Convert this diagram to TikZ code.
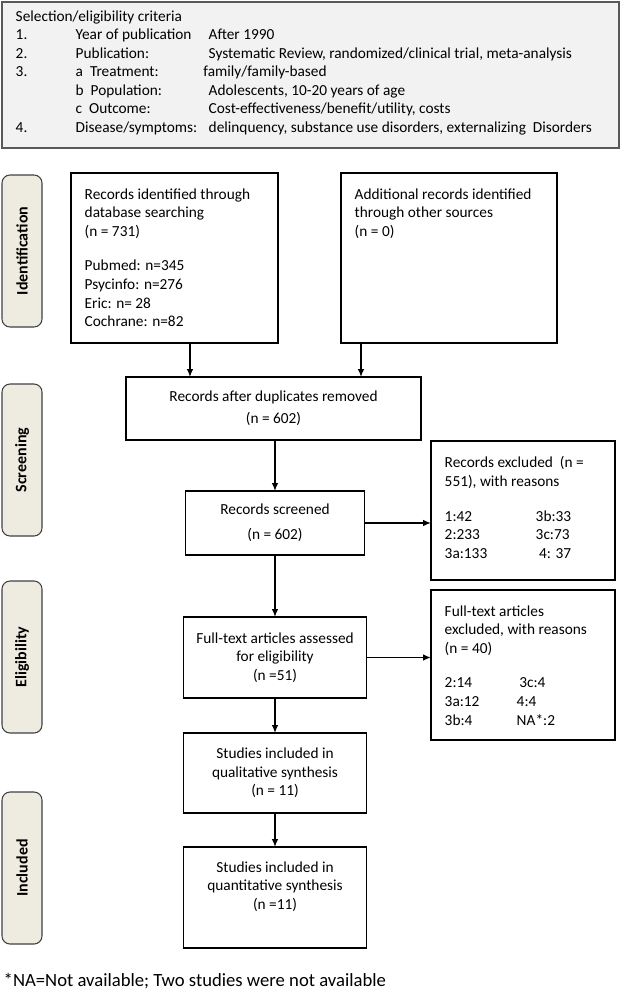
\documentclass[tikz,border=0pt]{standalone}
\usepackage{fontspec}
\setmainfont{Carlito}
\usetikzlibrary{positioning}
\usetikzlibrary{arrows.meta}
\definecolor{stagefill}{HTML}{EEECE1}
\definecolor{critfill}{HTML}{F2F2F2}

\begin{document}
\begin{tikzpicture}[x=0.75pt,y=-0.75pt,>={Latex[length=6pt,width=5pt]},line width=1.1pt,font=\fontsize{11.5}{13.9}\selectfont,
	box/.style={draw=black,line width=1.1pt,outer sep=0pt,inner sep=0pt},
	stage/.style={draw=black!75,line width=0.8pt,fill=stagefill,rounded corners=6pt,minimum width=114pt,minimum height=30pt,rotate=90,font=\fontsize{12}{13.9}\selectfont\bfseries},
	txt/.style={anchor=north west,inner sep=0pt,align=left}]
	\useasboundingbox (0,0) rectangle (622,992);

	\node [box,draw=black!65,fill=critfill,minimum width=462.75pt,minimum height=109.5pt] at (310.5,75) (crit) {};
	\node [anchor=north west,inner sep=0pt] at ([shift={(13,5.5)}]crit.north west) (crit_txt) {\setlength{\tabcolsep}{0pt}%
		\begin{tabular}{p{45pt}p{99.75pt}l}
		\multicolumn{3}{l}{Selection/eligibility criteria}\\
		1. & Year of publication & After 1990\\
		2. & Publication: & Systematic Review, randomized/clinical trial, meta-analysis\\
		3. & a\ \ Treatment: & \hspace{-4pt}family/family-based\\
		 & b\ \ Population: & Adolescents, 10-20 years of age\\
		 & c\ \ Outcome: & Cost-effectiveness/benefit/utility, costs\\
		4. & Disease/symptoms: & delinquency, substance use disorders, externalizing\ \ Disorders
		\end{tabular}};

	\node [stage] at (22,251) (st_ident) {Identification};
	\node [stage] at (22,460) (st_screen) {Screening};
	\node [stage] at (22,657) (st_elig) {Eligibility};
	\node [stage] at (22,868) (st_incl) {Included};

	\node [box,minimum width=155.25pt,minimum height=127.5pt] at (174.5,258) (db) {};
	\node [txt] at ([shift={(13,15)}]db.north west) (db_txt) {Records identified through\\database searching\\(n = 731)\\[12pt]Pubmed: n=345\\Psycinfo: n=276\\Eric: n= 28\\Cochrane: n=82};

	\node [box,minimum width=162pt,minimum height=127.5pt] at (449,258) (other) {};
	\node [txt] at ([shift={(13,15)}]other.north west) (other_txt) {Additional records identified\\through other sources\\(n = 0)};

	\node [box,align=center,minimum width=221.25pt,minimum height=47.25pt] at (273.5,408.5) (dup) {Records after duplicates removed\\[2.6pt](n = 602)};

	\node [box,align=center,minimum width=134.25pt,minimum height=48pt] at (275,523) (scr) {Records screened\\[4.9pt](n = 602)};

	\node [box,minimum width=138pt,minimum height=104.25pt] at (523,510.5) (excl) {};
	\node [txt] at ([shift={(13,15)}]excl.north west) (excl_txt) {Records excluded\ \ (n =\\551), with reasons\\[12pt]\setlength{\tabcolsep}{0pt}%
		\begin{tabular}[t]{p{68.25pt}l}
		1:42 & 3b:33\\
		2:233 & 3c:73\\
		3a:133 & \ 4: 37
		\end{tabular}};

	\node [box,align=center,minimum width=137.25pt,minimum height=60.75pt] at (275,657.5) (ft) {Full-text articles assessed\\for eligibility\\(n =51)};

	\node [box,minimum width=138pt,minimum height=112.5pt] at (523,665) (ftex) {};
	\node [txt] at ([shift={(13,15)}]ftex.north west) (ftex_txt) {Full-text articles\\excluded, with reasons\\(n = 40)\\[12pt]\setlength{\tabcolsep}{0pt}%
		\begin{tabular}[t]{p{54pt}l}
		2:14 & \,3c:4\\
		3a:12 & 4:4\\
		3b:4 & NA*:2
		\end{tabular}};

	\node [box,align=center,minimum width=137.25pt,minimum height=60pt] at (275,773) (qual) {Studies included in\\qualitative synthesis\\(n = 11)};

	\node [box,align=center,minimum width=137.25pt,minimum height=75.75pt] at (275,897.5) (quant) {Studies included in\\quantitative synthesis\\(n =11)\\\strut};

	\node [anchor=base west,inner sep=0pt,font=\fontsize{14}{16}\selectfont] at (3,986) (note) {*NA=Not available; Two studies were not available};

	\draw [->] ([xshift=11.6pt]db.south) -- ([xshift=11.6pt]db.south |- dup.north);
	\draw [->] ([xshift=-66pt]other.south) -- ([xshift=-66pt]other.south |- dup.north);
	\draw [->] (dup.south -| scr.north) -- (scr.north);
	\draw [->] (scr.east) -- (scr.east -| excl.west);
	\draw [->] (scr.south) -- (ft.north);
	\draw [->] (ft.east) -- (ft.east -| ftex.west);
	\draw [->] (ft.south) -- (qual.north);
	\draw [->] (qual.south) -- (quant.north);
\end{tikzpicture}
\end{document}
